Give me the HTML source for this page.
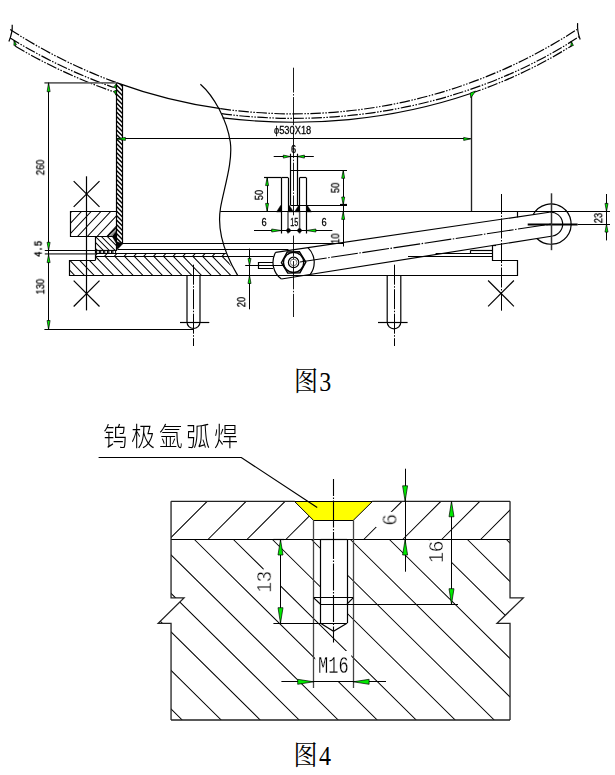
<!DOCTYPE html>
<html lang="zh"><head><meta charset="utf-8"><title>图3 图4</title>
<style>
html,body{margin:0;padding:0;background:#fff}
svg{display:block}
.l{stroke:#000;stroke-width:1.2;fill:none}
.lb{stroke:#000;stroke-width:1.8;fill:none}
.lg2{stroke:#333;stroke-width:1.5;fill:none}
.lg3{stroke:#222;stroke-width:1.35;fill:none}
.lg4{stroke:#555;stroke-width:1.5;fill:none}
.lh{stroke:#000;stroke-width:1.4;fill:none}
.lh2{stroke:#000;stroke-width:1.3;fill:none}
.lt{stroke:#444;stroke-width:.7;fill:none}
.lo{stroke:#222;stroke-width:1.3;fill:none}
.lg{stroke:#444;stroke-width:1.3;fill:none}
.d{stroke:#000;stroke-width:1.05;fill:none}
.d2{stroke:#666;stroke-width:1.8;fill:none}
.h{stroke:#000;stroke-width:1.05;fill:none}
.h2{stroke:#000;stroke-width:1.25;fill:none}
.h3{stroke:#000;stroke-width:.6;fill:none}
.ph{stroke:#000;stroke-width:1.2;fill:none;stroke-dasharray:10.5 1.5 1.5 1.5 1.5 1.5}
.cl{stroke:#000;stroke-width:.9;fill:none;stroke-dasharray:28.3 1.5 1.5 1.5}
.cl2{stroke:#000;stroke-width:1;fill:none;stroke-dasharray:20 1.5 1.5 1.5}
.cl3{stroke:#000;stroke-width:1.1;fill:none;stroke-dasharray:27 1.5 1.5 1.5}
.cl4{stroke:#000;stroke-width:1.1;fill:none;stroke-dasharray:27 1.5 1.5 1.5}
.k{fill:#000;stroke:#000;stroke-width:.5}
.s{fill:#fff;stroke:#000;stroke-width:1}
.g{fill:#00ea00;stroke:#000;stroke-width:.7;stroke-linejoin:miter}
.y{fill:#ff0;stroke:#000;stroke-width:1}
text{fill:#000}
.t,.tl,.tb,.tm,.tc{filter:url(#nf)}
.t{font-family:"Liberation Sans",sans-serif;stroke:#000;stroke-width:.22}
.tm{font-family:"Liberation Mono","Liberation Sans",monospace;stroke:#000;stroke-width:.35}
.tl{font-family:"Liberation Sans",sans-serif;stroke:#fff;stroke-width:.4;paint-order:fill stroke}
.tb{font-family:"Liberation Sans",sans-serif;stroke:#000;stroke-width:.5}
.tm2{font-family:"Liberation Mono",monospace;filter:url(#nf);stroke:#fff;stroke-width:.28;paint-order:fill stroke}
.ts{font-family:"Liberation Serif","Noto Serif CJK SC",serif}
.tc{font-family:"Liberation Sans","Noto Sans CJK SC",sans-serif;font-weight:300}
</style></head><body>
<svg width="615" height="775" viewBox="0 0 615 775">
<rect width="615" height="775" fill="#fff"/>
<defs>
<filter id="nf" x="-50%" y="-50%" width="200%" height="200%"><feOffset dx="0" dy="0"/></filter>
<clipPath id="cwall"><path d="M116.4,82.6 L122.6,84.81 L122.6,243.8 L117.2,249 L116.4,236 Z"/></clipPath>
<clipPath id="cub"><path d="M70.3,211.5 H116.4 V227.6 L107.3,236.7 H70.3 Z"/></clipPath>
<clipPath id="cwd"><path d="M107.3,236.7 L116.4,227.6 V236.7 Z"/></clipPath>
<clipPath id="cmid"><path d="M95.6,236.7 H112 L116.4,243.6 V250.6 H95.6 Z"/></clipPath>
<clipPath id="cthin"><path d="M95.6,253.4 H225.9 L227.0,256.9 H95.6 Z"/></clipPath>
<clipPath id="clp"><path d="M69.6,260.2 H95.6 V256.9 H227 C229,263 232,269 237.8,275.6 H69.6 Z"/></clipPath>
<clipPath id="ctp"><path d="M171.05,501.3 H294.6 L313.7,520.3 V539.5 H171.05 Z M372.4,501.3 H510.03 V539.5 H353.1 V520.3 Z"/></clipPath>
<clipPath id="clb"><path d="M171.05,539.5 H320.5 V623.2 L333.5,631.2 L347,623.2 V539.5 H510.03 V597.9 H523.3 L497,623.3 H510.03 V720 H171.05 V623.3 H158.2 L184,597.9 H171.05 Z"/></clipPath>
</defs>
<path class="ph" d="M10.2,29.45 A518,518 0 0 0 116.4,82.6"/>
<path class="l" d="M116.4,82.6 A518,518 0 0 0 220.6,108.68"/>
<path class="ph" d="M220.6,108.68 A518,518 0 0 0 577,29.45"/>
<path class="ph" d="M10.2,38.01 A540,540 0 0 0 113.8,87.54"/>
<path class="ph" d="M221.6,113.71 A452,363.6 0 0 0 579,36.7"/>
<path class="ph" d="M15.4,46.3 A547.5,547.5 0 0 0 113.8,91.88"/>
<path class="l" d="M222.6,117.8 A438,336.8 0 0 0 470.7,93.49"/>
<path class="ph" d="M470.7,93.49 A438,336.8 0 0 0 572.1,45.4"/>
<path class="l" d="M12.2,24.8 Q12.8,32 8.9,41.4"/>
<path class="l" d="M577.6,23.1 Q577,31.5 580.2,39.4"/>
<line class="l" x1="14.2" y1="40.6" x2="15.4" y2="46.3"/>
<line class="l" x1="571.3" y1="41.4" x2="572.1" y2="45.5"/>
<path class="g" d="M14.2,40.6 L13.88,45.37 L16.42,44.83 Z"/>
<path class="g" d="M571.3,41.4 L570.87,45.97 L573.42,45.47 Z"/>
<path class="l" d="M200.4,84.2 C214,96 227,120 230.3,142 C233,162 224,188 220.5,208 C217.5,226 220.5,247 237.8,275.6"/>
<path class="h2" clip-path="url(#cwall)" d="M-59.5,80 L112.5,252 M-55,80 L117,252 M-50.5,80 L121.5,252 M-46,80 L126,252 M-41.5,80 L130.5,252 M-37,80 L135,252 M-32.5,80 L139.5,252 M-28,80 L144,252 M-23.5,80 L148.5,252 M-19,80 L153,252 M-14.5,80 L157.5,252 M-10,80 L162,252 M-5.5,80 L166.5,252 M-1,80 L171,252 M3.5,80 L175.5,252 M8,80 L180,252 M12.5,80 L184.5,252 M17,80 L189,252 M21.5,80 L193.5,252 M26,80 L198,252 M30.5,80 L202.5,252 M35,80 L207,252 M39.5,80 L211.5,252 M44,80 L216,252 M48.5,80 L220.5,252 M53,80 L225,252 M57.5,80 L229.5,252 M62,80 L234,252 M66.5,80 L238.5,252 M71,80 L243,252 M75.5,80 L247.5,252 M80,80 L252,252 M84.5,80 L256.5,252 M89,80 L261,252 M93.5,80 L265.5,252 M98,80 L270,252 M102.5,80 L274.5,252 M107,80 L279,252 M111.5,80 L283.5,252 M116,80 L288,252 M120.5,80 L292.5,252 M125,80 L297,252"/>
<line class="l" x1="116.5" y1="82.6" x2="116.5" y2="250.9"/>
<line class="l" x1="122.5" y1="84.81" x2="122.5" y2="243.8"/>
<path class="g" d="M113.7,86.9 L116,84.2 L116.2,88.6 Z"/>
<path class="g" d="M113.7,91.2 L116.2,90.3 L116,95.2 Z"/>
<line class="d" x1="116.4" y1="138.5" x2="470.7" y2="138.5"/>
<path class="g" d="M116.4,138.9 L125.4,140.4 L125.4,137.4 Z"/>
<path class="g" d="M470.7,138.9 L463.7,137.4 L463.7,140.4 Z"/>
<line class="lg3" x1="471.5" y1="93.39" x2="471.5" y2="211.4"/>
<path class="g" d="M470.2,93 L475.6,91 L470.9,97.8 Z"/>
<text class="t" font-size="9.3" text-anchor="start" transform="translate(274 134.4) scale(1 1.22)">ϕ530X18</text>
<line class="cl" x1="293.5" y1="67.7" x2="293.5" y2="215.3" stroke-dashoffset="3.45"/>
<line class="cl" x1="293.5" y1="235.6" x2="293.5" y2="317" stroke-dashoffset="7.35"/>
<line class="l" x1="290.5" y1="153.7" x2="290.5" y2="205"/>
<line class="l" x1="297.5" y1="153.7" x2="297.5" y2="205"/>
<line class="l" x1="290.3" y1="170.5" x2="347" y2="170.5"/>
<line class="l" x1="290.3" y1="205.5" x2="347" y2="205.5"/>
<line class="l" x1="281.5" y1="177.6" x2="281.5" y2="233.5"/>
<line class="l" x1="288.5" y1="177.6" x2="288.5" y2="211.4"/>
<line class="lg4" x1="288" y1="211.4" x2="288" y2="233.5"/>
<line class="l" x1="281.4" y1="177.5" x2="288" y2="177.5"/>
<line class="l" x1="299.5" y1="177.6" x2="299.5" y2="211.4"/>
<line class="lg4" x1="299.6" y1="211.4" x2="299.6" y2="233.5"/>
<line class="l" x1="306.5" y1="177.6" x2="306.5" y2="233.5"/>
<line class="l" x1="299.6" y1="177.5" x2="306.2" y2="177.5"/>
<line class="l" x1="264" y1="177.5" x2="281.2" y2="177.5"/>
<line class="l" x1="220.3" y1="211.5" x2="535" y2="211.5"/>
<path class="k" d="M281.5,205.5 L280.6,205.5 L276.5,211.9 L281.5,211.9 Z"/>
<path class="k" d="M288.5,205.5 L289.4,205.5 L293.5,211.9 L288.5,211.9 Z"/>
<path class="k" d="M299.5,205.5 L298.6,205.5 L294.5,211.9 L299.5,211.9 Z"/>
<path class="k" d="M306.5,205.5 L307.4,205.5 L311.5,211.9 L306.5,211.9 Z"/>
<line class="d" x1="273.7" y1="156.5" x2="313.8" y2="156.5"/>
<path class="g" d="M290.3,156.6 L283.3,155.1 L283.3,158.1 Z"/>
<path class="g" d="M297.4,156.6 L304.4,158.1 L304.4,155.1 Z"/>
<text class="t" font-size="9.3" text-anchor="middle" transform="translate(293.7 152.7) scale(1 1.18)">6</text>
<line class="d" x1="267.5" y1="177.6" x2="267.5" y2="211.4"/>
<path class="g" d="M267.1,177.6 L265.6,185.6 L268.6,185.6 Z"/>
<path class="g" d="M267.1,211.4 L268.6,203.4 L265.6,203.4 Z"/>
<text class="t" font-size="9.3" text-anchor="middle" transform="translate(262.9 195) rotate(-90) scale(1 1.22)">50</text>
<line class="d" x1="343.5" y1="170.3" x2="343.5" y2="246.5"/>
<path class="g" d="M343.2,170.3 L341.7,178.3 L344.7,178.3 Z"/>
<path class="g" d="M343.2,205 L344.7,197 L341.7,197 Z"/>
<path class="g" d="M343.2,211.4 L341.7,219.4 L344.7,219.4 Z"/>
<line class="l" x1="340" y1="204.5" x2="347" y2="204.5"/>
<text class="t" font-size="9.3" text-anchor="middle" transform="translate(339.2 187.8) rotate(-90) scale(1 1.22)">50</text>
<text class="t" font-size="9.3" text-anchor="middle" transform="translate(339.2 238.6) rotate(-90) scale(1 1.22)">10</text>
<line class="d" x1="254" y1="230.5" x2="332.4" y2="230.5"/>
<path class="g" d="M281.2,230.5 L271.7,229 L271.7,232 Z"/>
<path class="g" d="M306.4,230.5 L315.9,232 L315.9,229 Z"/>
<circle class="k" cx="288.5" cy="230.5" r="2"/>
<circle class="k" cx="299.5" cy="230.5" r="2"/>
<text class="t" font-size="9.3" text-anchor="middle" transform="translate(264 226.2) scale(1 1.22)">6</text>
<text class="t" font-size="9.3" text-anchor="middle" transform="translate(294.3 226.2) scale(0.78 1.22)">15</text>
<text class="t" font-size="9.3" text-anchor="middle" transform="translate(324 226.2) scale(1 1.22)">6</text>
<path class="h" clip-path="url(#cub)" d="M62.41,211 L37.97,237 M72.17,211 L47.73,237 M81.93,211 L57.49,237 M91.69,211 L67.25,237 M101.45,211 L77.01,237 M111.21,211 L86.77,237 M120.97,211 L96.53,237 M130.73,211 L106.29,237 M140.49,211 L116.05,237 M150.25,211 L125.81,237"/>
<path class="l" d="M116.4,211.5 L70.5,211.5 L70.5,236.5 L116.4,236.5"/>
<path class="h3" clip-path="url(#cwd)" d="M105.8,227 L95.8,237 M107.4,227 L97.4,237 M109,227 L99,237 M110.6,227 L100.6,237 M112.2,227 L102.2,237 M113.8,227 L103.8,237 M115.4,227 L105.4,237 M117,227 L107,237 M118.6,227 L108.6,237 M120.2,227 L110.2,237 M121.8,227 L111.8,237 M123.4,227 L113.4,237 M125,227 L115,237 M126.6,227 L116.6,237 M128.2,227 L118.2,237"/>
<line class="h" x1="107.3" y1="236.7" x2="116.4" y2="227.6"/>
<path class="k" d="M112.2,236.4 L116.4,231.2 L116.4,243.6 Z"/>
<path class="k" d="M116.5,241.6 L122.8,243.7 L117.5,249.2 Z"/>
<path class="h" clip-path="url(#cmid)" d="M77.2,236 L92.2,251 M83.1,236 L98.1,251 M89,236 L104,251 M94.9,236 L109.9,251 M100.8,236 L115.8,251 M106.7,236 L121.7,251 M112.6,236 L127.6,251 M118.5,236 L133.5,251"/>
<line class="l" x1="95.5" y1="236.7" x2="95.5" y2="260.2"/>
<line class="l" x1="95.6" y1="250.5" x2="116.4" y2="250.5"/>
<circle class="s" cx="98" cy="252" r="1.55"/>
<circle class="s" cx="102.05" cy="252" r="1.55"/>
<circle class="s" cx="106.1" cy="252" r="1.55"/>
<circle class="s" cx="110.15" cy="252" r="1.55"/>
<circle class="s" cx="114.2" cy="252" r="1.55"/>
<line class="d" x1="44.8" y1="250.5" x2="95.6" y2="250.5"/>
<line class="d2" x1="44.8" y1="253.9" x2="95.6" y2="253.9"/>
<line class="l" x1="122.6" y1="243.5" x2="343.4" y2="243.5"/>
<line class="l" x1="117.4" y1="249.5" x2="288.5" y2="249.5"/>
<line class="l" x1="95.6" y1="253.5" x2="225.9" y2="253.5"/>
<line class="l" x1="95.6" y1="256.5" x2="273.6" y2="256.5"/>
<path class="h" clip-path="url(#cthin)" d="M88.1,253 L84.1,257 M97.9,253 L93.9,257 M107.7,253 L103.7,257 M117.5,253 L113.5,257 M127.3,253 L123.3,257 M137.1,253 L133.1,257 M146.9,253 L142.9,257 M156.7,253 L152.7,257 M166.5,253 L162.5,257 M176.3,253 L172.3,257 M186.1,253 L182.1,257 M195.9,253 L191.9,257 M205.7,253 L201.7,257 M215.5,253 L211.5,257 M225.3,253 L221.3,257 M235.1,253 L231.1,257"/>
<path class="h" clip-path="url(#clp)" d="M46.11,256 L65.51,276 M55.87,256 L75.27,276 M65.63,256 L85.03,276 M75.39,256 L94.79,276 M85.15,256 L104.55,276 M94.91,256 L114.31,276 M104.67,256 L124.07,276 M114.43,256 L133.83,276 M124.19,256 L143.59,276 M133.95,256 L153.35,276 M143.71,256 L163.11,276 M153.47,256 L172.87,276 M163.23,256 L182.63,276 M172.99,256 L192.39,276 M182.75,256 L202.15,276 M192.51,256 L211.91,276 M202.27,256 L221.67,276 M212.03,256 L231.43,276 M221.79,256 L241.19,276 M231.55,256 L250.95,276 M241.31,256 L260.71,276"/>
<path class="l" d="M95.6,260.5 L69.5,260.5 L69.5,275.5 L517.5,275.5 L517.5,260.5 L492.5,260.5 L492.5,245"/>
<line class="l" x1="73.7" y1="181.1" x2="99.5" y2="206.9"/>
<line class="l" x1="73.7" y1="206.9" x2="99.5" y2="181.1"/>
<line class="l" x1="73.7" y1="280.7" x2="99.5" y2="306.5"/>
<line class="l" x1="73.7" y1="306.5" x2="99.5" y2="280.7"/>
<line class="l" x1="86.5" y1="176.3" x2="86.5" y2="310.4"/>
<line class="d" x1="48.5" y1="82.7" x2="48.5" y2="329.5"/>
<line class="d2" x1="44.4" y1="82.9" x2="116.4" y2="82.9"/>
<line class="d" x1="44.4" y1="329.5" x2="193.5" y2="329.5"/>
<path class="g" d="M48.6,82.7 L47.1,91.7 L50.1,91.7 Z"/>
<path class="g" d="M48.6,250.3 L50.1,242.3 L47.1,242.3 Z"/>
<path class="g" d="M48.6,254.6 L47.1,262.6 L50.1,262.6 Z"/>
<path class="g" d="M48.6,329.5 L50.1,320.5 L47.1,320.5 Z"/>
<text class="t" font-size="9.3" text-anchor="middle" transform="translate(44.2 167.4) rotate(-90) scale(1 1.22)">260</text>
<text class="tm" font-size="9" text-anchor="middle" transform="translate(41.6 248.9) rotate(-90) scale(1 1.3)">4.5</text>
<text class="t" font-size="9.3" text-anchor="middle" transform="translate(44.2 286.6) rotate(-90) scale(1 1.22)">130</text>
<path class="l" d="M187,275.5 V322 A6.5,6.5 0 0 0 200,322 V275.5"/>
<line class="cl2" x1="193.5" y1="264.7" x2="193.5" y2="346"/>
<path class="l" d="M387.2,275.5 V322 A6.8,6.8 0 0 0 400.8,322 V275.5"/>
<line class="cl2" x1="394.5" y1="264.7" x2="394.5" y2="346"/>
<line class="l" x1="180" y1="322.5" x2="209.3" y2="322.5"/>
<line class="l" x1="378" y1="322.5" x2="407.6" y2="322.5"/>
<line class="d" x1="249.5" y1="248.6" x2="249.5" y2="309.3"/>
<path class="g" d="M249.5,265.4 L251,258.4 L248,258.4 Z"/>
<path class="g" d="M249.5,275.5 L248,283.5 L251,283.5 Z"/>
<line class="l" x1="245.2" y1="265.5" x2="284.5" y2="265.5"/>
<text class="t" font-size="9.3" text-anchor="middle" transform="translate(245.2 302) rotate(-90) scale(1 1.22)">20</text>
<path class="l" d="M273,262.5 L258.5,262.5 L258.5,268.5 L273,268.5"/>
<path class="l" d="M275.63,252.33 A20.6,20.6 0 0 0 281.41,279.01"/>
<path class="l" d="M307.93,247.6 A20.6,20.6 0 0 1 310.33,274.42"/>
<line class="l" x1="275.63" y1="252.33" x2="549.27" y2="212.23"/>
<line class="l" x1="281.41" y1="279.01" x2="552.73" y2="235.97"/>
<line class="cl3" x1="300" y1="262" x2="551" y2="224.1"/>
<path class="lh" d="M305.8,262.08 L299.97,272.8 L287.78,273.12 L281.4,262.72 L287.23,252 L299.42,251.68 Z"/>
<circle class="lh2" cx="293.6" cy="262.4" r="10.1"/>
<circle class="l" cx="293.6" cy="262.4" r="5.2"/>
<circle class="lt" cx="293.6" cy="262.4" r="3.3"/>
<path class="l" d="M549.27,212.23 A12,12 0 0 1 552.73,235.97"/>
<path class="l" d="M533.24,214.57 A20.15,20.15 0 1 1 536.89,238.49"/>
<line class="lb" x1="527.7" y1="224.5" x2="577.6" y2="224.5"/>
<line class="l" x1="577.6" y1="224.5" x2="610" y2="224.5"/>
<line class="lg2" x1="551.5" y1="193.3" x2="551.5" y2="250.2"/>
<line class="l" x1="517.5" y1="211.4" x2="517.5" y2="217.4"/>
<line class="l" x1="535" y1="211.5" x2="610" y2="211.5"/>
<line class="d" x1="606.5" y1="194" x2="606.5" y2="240.4"/>
<path class="g" d="M606.5,211.4 L608,203.4 L605,203.4 Z"/>
<path class="g" d="M606.5,224.1 L605,232.1 L608,232.1 Z"/>
<text class="t" font-size="9.3" text-anchor="middle" transform="translate(602.2 218) rotate(-90) scale(1 1.22)">23</text>
<line class="l" x1="492.4" y1="245.5" x2="496" y2="245.5"/>
<line class="l" x1="470.9" y1="250.5" x2="492.4" y2="250.5"/>
<line class="l" x1="470.5" y1="250.2" x2="470.5" y2="253.4"/>
<line class="l" x1="435.6" y1="253.5" x2="492.4" y2="253.5"/>
<line class="l" x1="408" y1="256.5" x2="492.4" y2="256.5"/>
<line class="cl2" x1="501.5" y1="194" x2="501.5" y2="310.7"/>
<line class="l" x1="488.1" y1="280.5" x2="513.9" y2="306.3"/>
<line class="l" x1="488.1" y1="306.3" x2="513.9" y2="280.5"/>
<text class="ts" font-size="24" letter-spacing="1.3" transform="translate(294.0 390.9) scale(1 1.14)">图3</text>
<path class="h" clip-path="url(#ctp)" d="M168.25,501.3 L130.05,539.5 M207.2,501.3 L169,539.5 M246.15,501.3 L207.95,539.5 M285.1,501.3 L246.9,539.5 M324.05,501.3 L285.85,539.5 M363,501.3 L324.8,539.5 M401.95,501.3 L363.75,539.5 M440.9,501.3 L402.7,539.5 M479.85,501.3 L441.65,539.5 M518.8,501.3 L480.6,539.5 M557.75,501.3 L519.55,539.5"/>
<path class="h" clip-path="url(#clb)" d="M-39.6,539.5 L143.25,720 M-0.6,539.5 L182.25,720 M38.4,539.5 L221.25,720 M77.4,539.5 L260.25,720 M116.4,539.5 L299.25,720 M155.4,539.5 L338.25,720 M194.4,539.5 L377.25,720 M233.4,539.5 L416.25,720 M272.4,539.5 L455.25,720 M311.4,539.5 L494.25,720 M350.4,539.5 L533.25,720 M389.4,539.5 L572.25,720 M428.4,539.5 L611.25,720 M467.4,539.5 L650.25,720 M506.4,539.5 L689.25,720 M545.4,539.5 L728.25,720"/>
<rect x="263.4" y="568.7" width="17.1" height="24.5" fill="#fff"/>
<rect x="376" y="511.9" width="22" height="15.2" fill="#fff"/>
<rect x="427" y="540.2" width="24.4" height="23.1" fill="#fff"/>
<rect x="315.2" y="651" width="36.1" height="31" fill="#fff"/>
<line class="lo" x1="171.05" y1="501.3" x2="294.6" y2="501.3"/>
<line class="lo" x1="372.4" y1="501.3" x2="510.03" y2="501.3"/>
<line class="l" x1="294.6" y1="501.5" x2="372.4" y2="501.5"/>
<line class="l" x1="171.05" y1="539.5" x2="510.03" y2="539.5"/>
<line class="lo" x1="171.05" y1="720" x2="510.03" y2="720"/>
<path class="lo" d="M171.05,501.3 L171.05,597.9 L184,597.9 L158.2,623.3 L171.05,623.3 L171.05,720"/>
<path class="lo" d="M510.03,501.3 L510.03,597.9 L523.3,597.9 L497,623.3 L510.03,623.3 L510.03,720"/>
<path class="y" d="M294.6,501.5 L372.4,501.5 L353.1,520.5 L313.7,520.5 Z"/>
<line class="lg" x1="313.5" y1="520.3" x2="313.5" y2="688"/>
<line class="lg" x1="353.5" y1="520.3" x2="353.5" y2="688"/>
<line class="l" x1="320.5" y1="539.5" x2="320.5" y2="623.2"/>
<line class="l" x1="347.5" y1="539.5" x2="347.5" y2="623.2"/>
<line class="l" x1="313.7" y1="597.5" x2="353.1" y2="597.5"/>
<line class="l" x1="313.7" y1="597.9" x2="320.5" y2="604.2"/>
<line class="l" x1="353.1" y1="597.9" x2="347" y2="604.2"/>
<line class="l" x1="320.5" y1="604.5" x2="458" y2="604.5"/>
<line class="l" x1="273.4" y1="623.5" x2="347" y2="623.5"/>
<path class="l" d="M320.5,623.2 L333.5,631.2 L347,623.2"/>
<line class="cl4" x1="333.5" y1="479" x2="333.5" y2="642.6" stroke-dashoffset="10"/>
<line class="l" x1="320.5" y1="539.5" x2="347" y2="539.5"/>
<path class="l" d="M98.6,457.5 L241.3,457.5 L317.2,507.6"/>
<text class="tc" font-size="24" letter-spacing="3.7" transform="translate(103.3 446.3) scale(1 1.1)">钨极氩弧焊</text>
<line class="d" x1="280.5" y1="539.5" x2="280.5" y2="623.2"/>
<path class="g" d="M280.5,539.5 L278,555 L283,555 Z"/>
<path class="g" d="M280.5,623.2 L283,607.7 L278,607.7 Z"/>
<line class="l" x1="273.4" y1="539.5" x2="284" y2="539.5"/>
<text class="tl" font-size="19.5" text-anchor="middle" transform="translate(271.1 582) rotate(-90) scale(1 1.08)">13</text>
<line class="d" x1="405.5" y1="468.7" x2="405.5" y2="571.7"/>
<path class="g" d="M405.1,501.3 L407.6,485.8 L402.6,485.8 Z"/>
<path class="g" d="M405.1,539.5 L402.6,555 L407.6,555 Z"/>
<text class="tl" font-size="20" text-anchor="middle" transform="translate(396.5 519.8) rotate(-90) scale(1 1.05)">6</text>
<line class="d" x1="451.5" y1="501.3" x2="451.5" y2="604.2"/>
<path class="g" d="M451.5,501.3 L449,516.8 L454,516.8 Z"/>
<path class="g" d="M451.5,604.2 L454,588.7 L449,588.7 Z"/>
<text class="tl" font-size="20" text-anchor="middle" transform="translate(443 552) rotate(-90) scale(1 1.05)">16</text>
<line class="d" x1="281.4" y1="681.5" x2="386" y2="681.5"/>
<path class="g" d="M313.7,681.8 L297.7,679.3 L297.7,684.3 Z"/>
<path class="g" d="M353.1,681.8 L369.1,684.3 L369.1,679.3 Z"/>
<text class="tm2" font-size="20" text-anchor="start" transform="translate(318 672.8) scale(0.85 1.2)">M16</text>
<text class="ts" font-size="24" letter-spacing="1.3" transform="translate(293.6 765.0) scale(1 1.13)">图4</text>
</svg>
</body></html>
